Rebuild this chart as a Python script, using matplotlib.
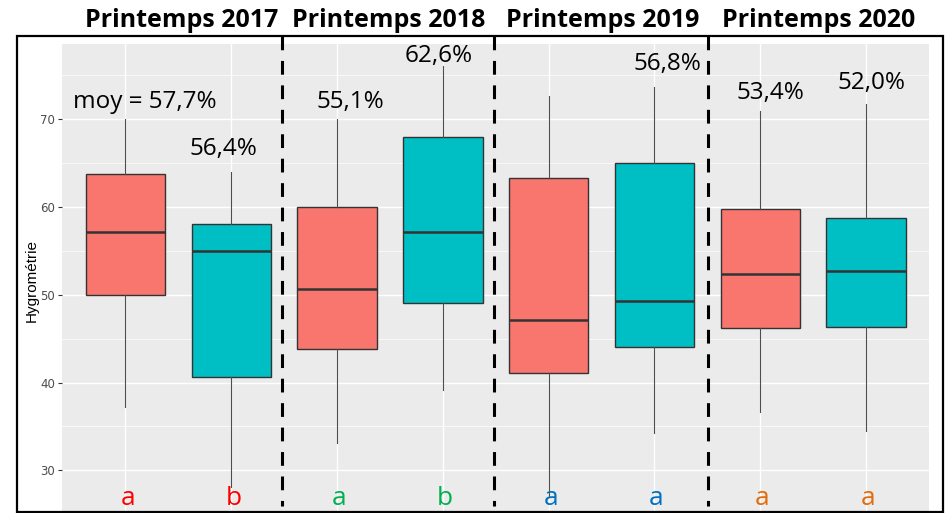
import matplotlib
matplotlib.use("Agg")
import matplotlib.pyplot as plt
import matplotlib.transforms as mtransforms
from matplotlib.patches import Rectangle

# ---- data ----
seasons = ["Printemps 2017", "Printemps 2018", "Printemps 2019", "Printemps 2020"]
whislo = [37.2, 28.1, 33.1, 39.1, 27.0, 34.2, 36.6, 34.5]
q1     = [50.0, 40.6, 43.8, 49.0, 41.1, 44.1, 46.2, 46.3]
med    = [57.1, 55.0, 50.6, 57.1, 47.1, 49.3, 52.4, 52.7]
q3     = [63.8, 58.0, 60.0, 68.0, 63.3, 65.0, 59.8, 58.7]
whishi = [70.0, 64.0, 70.0, 76.0, 72.6, 73.7, 70.9, 71.7]
mean_labels = ["moy = 57,7%", "56,4%", "55,1%", "62,6%", "", "56,8%", "53,4%", "52,0%"]
group_letters = ["a", "b", "a", "b", "a", "a", "a", "a"]
yticks = [30, 40, 50, 60, 70]
ylabel = "Hygrométrie"

# ---- layout / style (positions kept separate from data) ----
label_x = [1.18, 1.93, 3.13, 3.96, 5.0, 6.12, 7.10, 8.05]
label_y = [71.3, 65.87, 71.3, 76.48, 0, 75.54, 72.24, 73.46]
letter_y = 26.05
letter_colors = ["#FF0000", "#FF0000", "#00B050", "#00B050",
                 "#0070C0", "#0070C0", "#E36C0A", "#E36C0A"]
fills = ["#F8766D", "#00BFC4"] * 4
title_x_px = [182, 389, 602.5, 819]

W, H = 953, 513
fig = plt.figure(figsize=(W / 100, H / 100), dpi=100)
fig.patch.set_facecolor("white")

ax_left, ax_right, ax_top, ax_bot = 62, 929.5, 44, 513
ax = fig.add_axes([ax_left / W, 1 - ax_bot / H, (ax_right - ax_left) / W, (ax_bot - ax_top) / H])
ax.set_facecolor("#EBEBEB")

positions = list(range(1, len(med) + 1))
stats = []
for i in range(len(med)):
    stats.append(dict(med=med[i], q1=q1[i], q3=q3[i], whislo=whislo[i], whishi=whishi[i], fliers=[]))

bp = ax.bxp(stats, positions=positions, widths=0.75, showcaps=False, showfliers=False,
            patch_artist=True, zorder=3,
            boxprops=dict(edgecolor="#333333", linewidth=1.0),
            medianprops=dict(color="#333333", linewidth=1.8),
            whiskerprops=dict(color="#4D4D4D", linewidth=0.8))
for patch, c in zip(bp["boxes"], fills):
    patch.set_facecolor(c)

ax.set_xlim(0.4, 8.6)
ax.set_ylim(25.14, 78.55)
ax.set_yticks(yticks)
ax.set_yticks([35, 45, 55, 65, 75], minor=True)
ax.set_xticks(positions)
ax.tick_params(axis="x", length=0, labelbottom=False)
ax.tick_params(axis="y", which="major", length=3, width=0.8, color="#333333",
               labelcolor="#4D4D4D", labelsize=8.5, pad=2)
ax.tick_params(axis="y", which="minor", length=0)
ax.grid(True, which="major", color="white", linewidth=1.0, zorder=0)
ax.grid(True, which="minor", axis="y", color="white", linewidth=0.5, zorder=0)
ax.set_axisbelow(True)
for s in ax.spines.values():
    s.set_visible(False)

for lab, x, y in zip(mean_labels, label_x, label_y):
    if lab:
        ax.text(x, y, lab, ha="center", va="baseline", fontsize=17.5,
                family="Open Sans", color="black", zorder=5)

for pos, letter, col in zip(positions, group_letters, letter_colors):
    ax.text(pos + 0.02, letter_y, letter, ha="center", va="baseline", fontsize=19,
            family="Open Sans", color=col, zorder=5)

# dashed separators between seasons
trans = mtransforms.blended_transform_factory(ax.transData, fig.transFigure)
for xs in [2.48, 4.485, 6.505]:
    ax.plot([xs, xs], [1 - 36 / H, 1 - 506 / H], transform=trans, color="black",
            linewidth=2.2, linestyle=(0, (4.5, 3.5)), clip_on=False, zorder=6)

# outer frame
fig.patches.append(Rectangle((17 / W, 1 - 511.5 / H), (943 - 17) / W, (511.5 - 36) / H,
                             transform=fig.transFigure, fill=False, edgecolor="black",
                             linewidth=1.6, zorder=10))

for t, xp in zip(seasons, title_x_px):
    fig.text(xp / W, 1 - 26.7 / H, t, ha="center", va="baseline", fontsize=18,
             fontweight="bold", family="Open Sans", color="black")

fig.text(32 / W, 1 - 280 / H, ylabel, rotation=90, ha="center", va="center",
         fontsize=11, family="Liberation Sans", color="black")

fig.savefig("out.png", dpi=100)
